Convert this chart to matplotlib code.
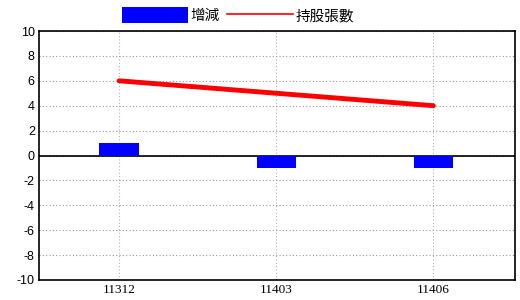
import matplotlib
matplotlib.use('Agg')
import matplotlib.pyplot as plt
import numpy as np
from matplotlib.patches import Patch
from matplotlib.lines import Line2D

plt.rcParams['font.family'] = ['Noto Sans CJK TC', 'DejaVu Sans']

categories = ['11312', '11403', '11406']
change = [1, -1, -1]          # 增減
holdings = [6, 5, 4]          # 持股張數
yticks = list(range(-10, 11, 2))

fig = plt.figure(figsize=(5.2, 3), dpi=100)
fig.set_facecolor('white')
ax = fig.add_axes([39 / 520, 20 / 300, 476 / 520, 249 / 300])

x = np.arange(len(categories))
ax.bar(x, change, width=0.25, color='#0000ff', zorder=3)
ax.plot(x, holdings, color='#ff0000', linewidth=3.5, zorder=4,
        solid_capstyle='round')
ax.axhline(0, color='black', linewidth=1.2, zorder=2)

ax.set_xlim(-0.51, 2.52)
ax.set_ylim(-10, 10)
ax.set_xticks(x)
ax.set_xticklabels(categories, family=['Liberation Serif'], fontsize=9.5)
ax.set_yticks(yticks)
ax.set_yticklabels([str(v) for v in yticks], family=['Liberation Sans'],
                   fontsize=9)
ax.tick_params(length=0, pad=3)

ax.yaxis.grid(color='#999999', linestyle=(0, (1, 2)), linewidth=0.8)
ax.xaxis.grid(color='#a0b4c8', linestyle=(0, (1, 2)), linewidth=0.8)
ax.set_axisbelow(True)
for s in ax.spines.values():
    s.set_linewidth(1.2)
    s.set_color('black')

handles = [Patch(facecolor='#0000ff', edgecolor='none', label='增減'),
           Line2D([], [], color='#ff0000', linewidth=1.2, label='持股張數')]
fig.legend(handles=handles, loc='upper left', bbox_to_anchor=(112 / 520, 1.01),
           ncol=2, frameon=False, fontsize=10.5, handlelength=4.5,
           handleheight=1.3, handletextpad=0.2, columnspacing=0.5,
           borderpad=0.2)

fig.savefig('out.png', dpi=100)
